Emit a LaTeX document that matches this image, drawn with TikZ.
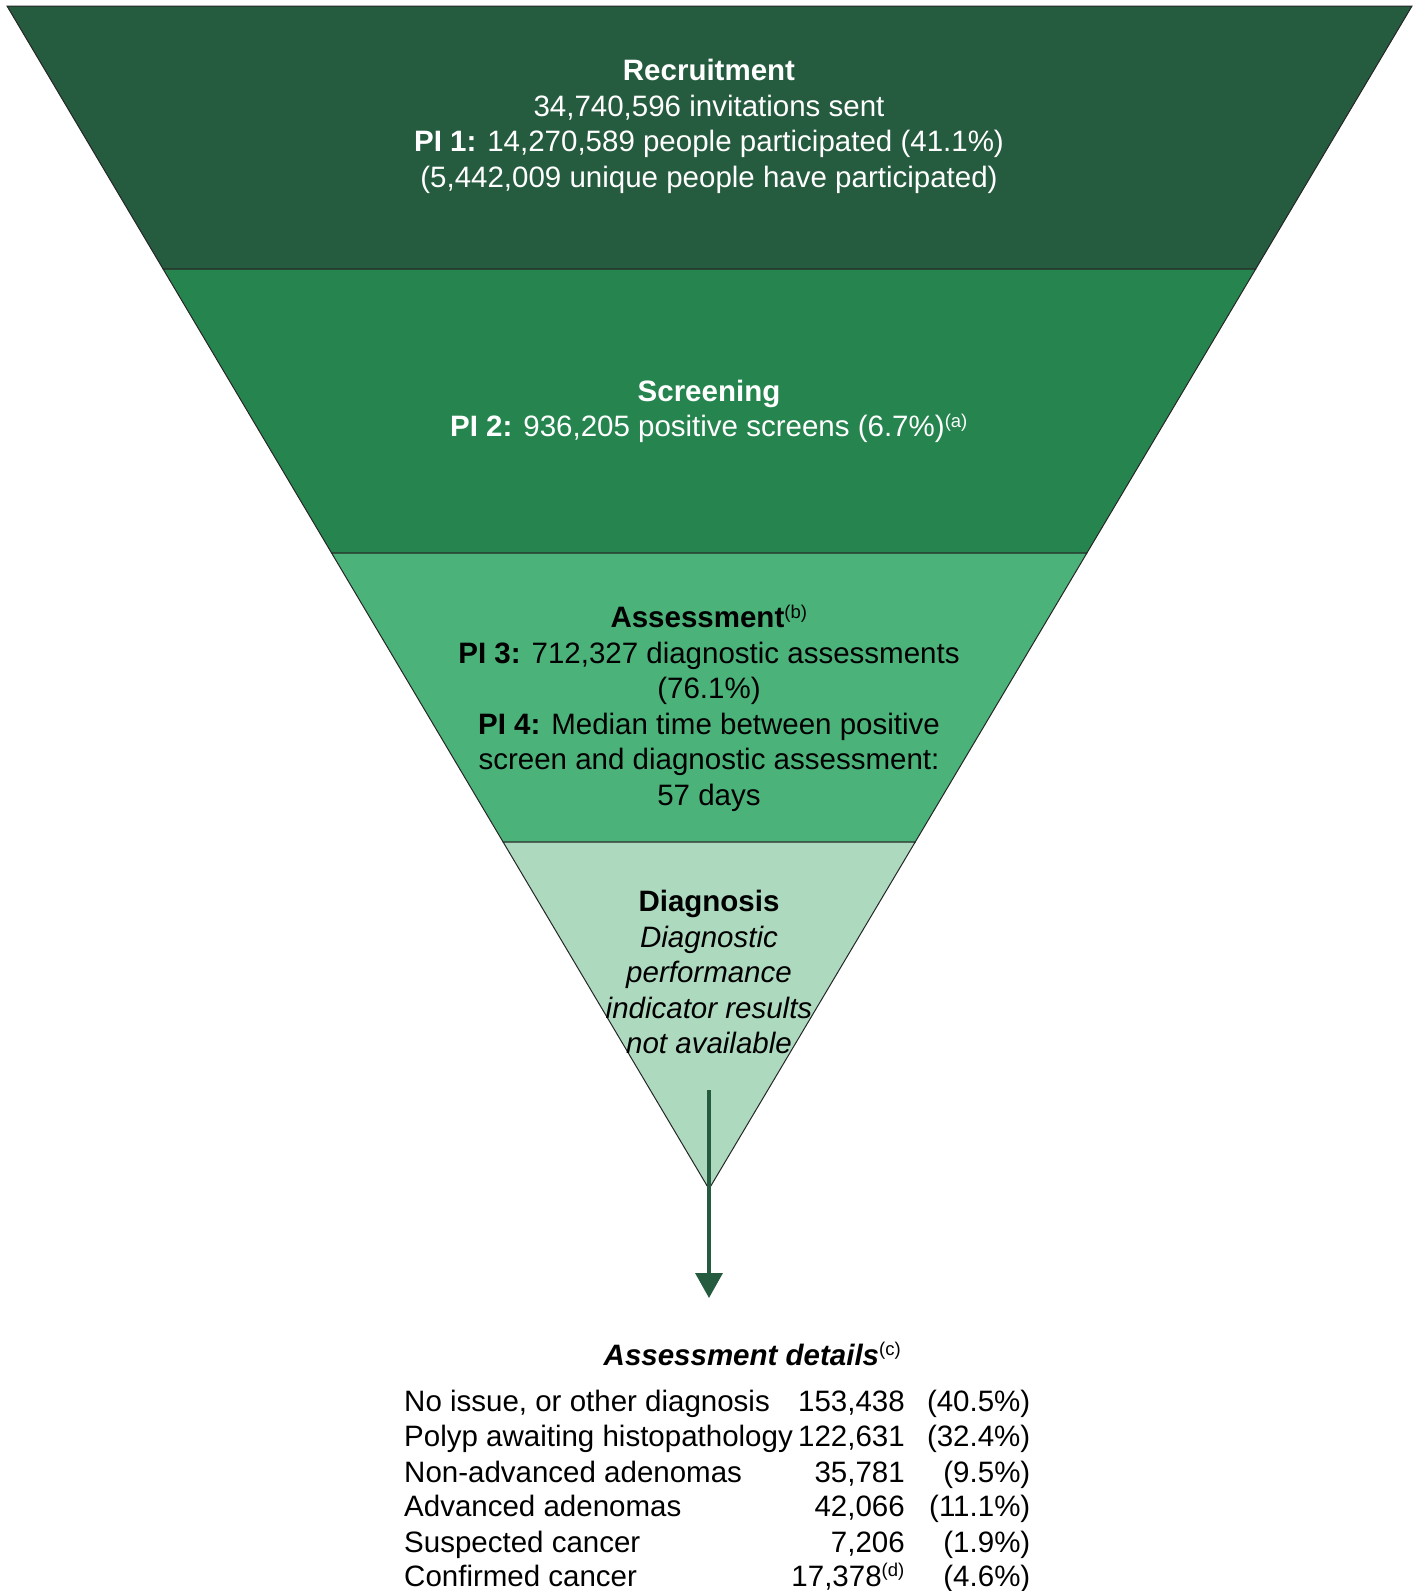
\documentclass[tikz,border=0pt]{standalone}
\usepackage{fontspec}
\setmainfont{Liberation Sans}
\usetikzlibrary{arrows.meta}

\definecolor{recruitgreen}{HTML}{255B3E}
\definecolor{screengreen}{HTML}{26854F}
\definecolor{assessgreen}{HTML}{4BB279}
\definecolor{diaggreen}{HTML}{ADDABF}
\newcommand{\notemark}[1]{\textsuperscript{\fontsize{18.5}{18.5}\selectfont(#1)}}

\tikzset{
  band/.style={draw=black!85, line width=1pt},
  stagetext/.style={align=center, inner sep=0pt, font=\fontsize{29.5}{35.5}\selectfont},
  rowtext/.style={inner sep=0pt, font=\fontsize{29.5}{35.5}\selectfont},
  arrowline/.style={draw=recruitgreen, line width=3.5pt, -{Triangle[width=27pt,length=25pt]}},
}

\begin{document}
\begin{tikzpicture}[x=1pt,y=-1pt]
\useasboundingbox (0,0) rectangle (1416,1591);
% funnel
\draw[band, fill=recruitgreen] (7,6) -- (1412,6) -- (1255.7,269) -- (163.1,269) -- cycle;
\draw[band, fill=screengreen] (163.1,269) -- (1255.7,269) -- (1086.9,553) -- (331.6,553) -- cycle;
\draw[band, fill=assessgreen] (331.6,553) -- (1086.9,553) -- (915.2,842) -- (503.1,842) -- cycle;
\draw[band, fill=diaggreen] (503.1,842) -- (915.2,842) -- (709,1189) -- cycle;
% stage texts
\node (recruit) at (709,126.5) [stagetext, text=white] {\textbf{Recruitment}\\
34,740,596 invitations sent\\
\textbf{PI 1:} 14,270,589 people participated (41.1\%)\\
(5,442,009 unique people have participated)};
\node (screen) at (709,411.5) [stagetext, text=white] {\textbf{Screening}\\
\textbf{PI 2:} 936,205 positive screens (6.7\%)\notemark{a}};
\node (assess) at (709,708.5) [stagetext] {\textbf{Assessment}\notemark{b}\\
\textbf{PI 3:} 712,327 diagnostic assessments\\
(76.1\%)\\
\textbf{PI 4:} Median time between positive\\
screen and diagnostic assessment:\\
57 days};
\node (diag) at (709,972) [stagetext] {\textbf{Diagnosis}\\
\textit{Diagnostic}\\
\textit{performance}\\
\textit{indicator results}\\
\textit{not available}};
% arrow to details
\coordinate (arrowtop) at (709,1090);
\coordinate (arrowtip) at (709,1298);
\draw[arrowline] (arrowtop) -- (arrowtip);
% assessment details
\node (details) at (603.5,1365) [rowtext, anchor=base west] {\textbf{\textit{Assessment details}}\notemark{c}};
\node (row-0L) at (404,1411) [rowtext, anchor=base west] {No issue, or other diagnosis};
\node (row-0N) at (905,1411) [rowtext, anchor=base east] {153,438};
\node (row-0P) at (1030.5,1411) [rowtext, anchor=base east] {(40.5\%)};
\node (row-1L) at (404,1446) [rowtext, anchor=base west] {Polyp awaiting histopathology};
\node (row-1N) at (905,1446) [rowtext, anchor=base east] {122,631};
\node (row-1P) at (1030.5,1446) [rowtext, anchor=base east] {(32.4\%)};
\node (row-2L) at (404,1482) [rowtext, anchor=base west] {Non-advanced adenomas};
\node (row-2N) at (905,1482) [rowtext, anchor=base east] {35,781};
\node (row-2P) at (1030.5,1482) [rowtext, anchor=base east] {(9.5\%)};
\node (row-3L) at (404,1516) [rowtext, anchor=base west] {Advanced adenomas};
\node (row-3N) at (905,1516) [rowtext, anchor=base east] {42,066};
\node (row-3P) at (1030.5,1516) [rowtext, anchor=base east] {(11.1\%)};
\node (row-4L) at (404,1552) [rowtext, anchor=base west] {Suspected cancer};
\node (row-4N) at (905,1552) [rowtext, anchor=base east] {7,206};
\node (row-4P) at (1030.5,1552) [rowtext, anchor=base east] {(1.9\%)};
\node (row-5L) at (404,1586) [rowtext, anchor=base west] {Confirmed cancer};
\node (row-5N) at (905,1586) [rowtext, anchor=base east] {17,378\notemark{d}};
\node (row-5P) at (1030.5,1586) [rowtext, anchor=base east] {(4.6\%)};
\end{tikzpicture}
\end{document}
